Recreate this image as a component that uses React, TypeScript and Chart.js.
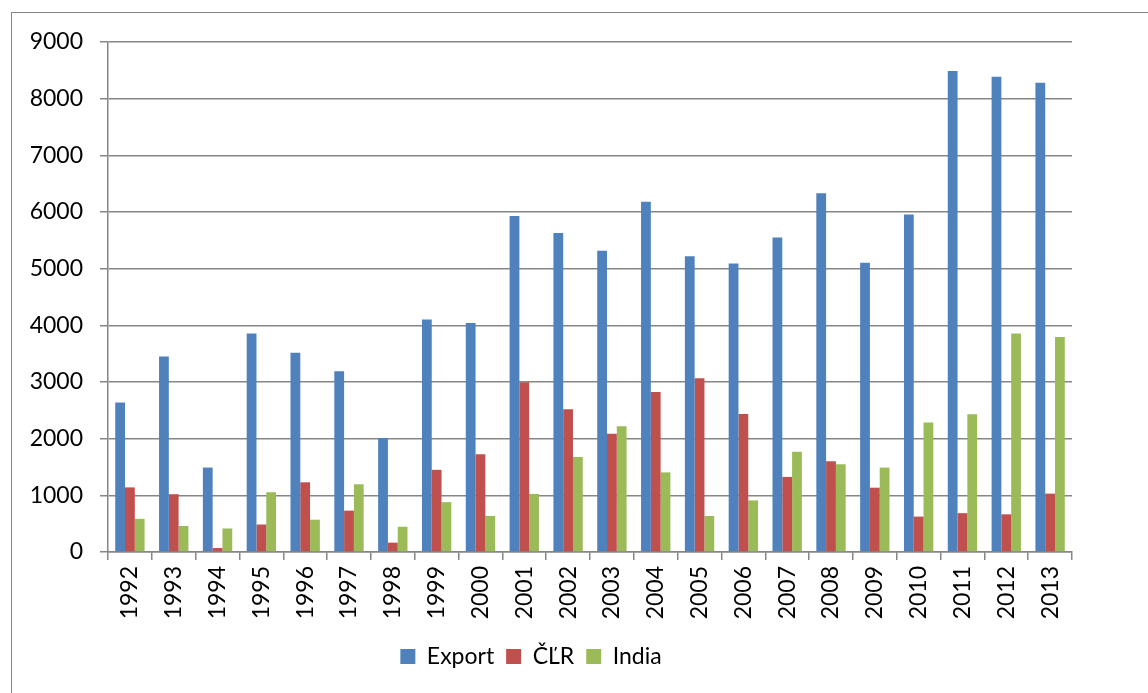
import React, { useEffect, useRef } from "react";
import { Chart, registerables } from "chart.js";

Chart.register(...registerables);

const years = ["1992","1993","1994","1995","1996","1997","1998","1999","2000","2001","2002","2003","2004","2005","2006","2007","2008","2009","2010","2011","2012","2013"];
const exportValues = [2640,3450,1490,3855,3515,3190,2010,4105,4040,5930,5630,5315,6180,5220,5090,5550,6330,5105,5955,8490,8385,8280];
const clrValues = [1140,1020,70,485,1230,730,165,1450,1725,2995,2520,2085,2825,3065,2435,1325,1600,1135,625,685,665,1030];
const indiaValues = [585,460,415,1055,570,1195,445,880,635,1025,1675,2220,1405,635,910,1770,1550,1490,2285,2430,3855,3795];
const yTicks = [0,1000,2000,3000,4000,5000,6000,7000,8000,9000];

const FONT = "Lato, 'Liberation Sans', sans-serif";
const GRID = "#868686";

export default function App() {
  const ref = useRef<HTMLCanvasElement | null>(null);
  useEffect(() => {
    if (!ref.current) return;
    const chart = new Chart(ref.current, {
      type: "bar",
      data: {
        labels: years,
        datasets: [
          { label: "Export", data: exportValues, backgroundColor: "#4F81BD" },
          { label: "ČĽR", data: clrValues, backgroundColor: "#C0504D" },
          { label: "India", data: indiaValues, backgroundColor: "#9BBB59" },
        ],
      },
      options: {
        animation: false,
        responsive: false,
        maintainAspectRatio: false,
        layout: { padding: { left: 0, right: 76, top: 42, bottom: 15 } },
        datasets: { bar: { categoryPercentage: 0.67, barPercentage: 1.0 } },
        plugins: {
          tooltip: { enabled: false },
          legend: {
            position: "bottom",
            labels: {
              boxWidth: 15,
              boxHeight: 15,
              padding: 12,
              color: "#000",
              font: { family: FONT, size: 23 },
            },
          },
        },
        scales: {
          x: {
            offset: true,
            grid: { offset: true, drawOnChartArea: false, drawTicks: true, tickLength: 8, color: GRID, lineWidth: 1.5 },
            border: { color: GRID, width: 1.5 },
            ticks: { minRotation: 90, maxRotation: 90, padding: 6, color: "#000", font: { family: FONT, size: 23 } },
            afterFit: (s: any) => { s.height = 81; },
          },
          y: {
            min: 0,
            max: 9000,
            afterBuildTicks: (s: any) => { s.ticks = yTicks.map((v) => ({ value: v })); },
            grid: { color: GRID, lineWidth: 1.5, tickLength: 8 },
            border: { color: GRID, width: 1.5 },
            ticks: { padding: 17, color: "#000", font: { family: FONT, size: 23 }, callback: (v: any) => String(v) },
            afterFit: (s: any) => { s.width = 118; },
          },
        },
      },
    });
    return () => chart.destroy();
  }, []);
  return (
    <div style={{ position: "fixed", left: 0, top: 0, width: 1148, height: 693, overflow: "hidden", background: "#fff" }}>
      <div style={{ position: "absolute", left: 11, top: 12, width: 1300, height: 800, border: "1px solid #868686" }} />
      <canvas ref={ref} width={1158} height={693} style={{ position: "absolute", left: -10, top: 0, width: 1158, height: 693 }} />
    </div>
  );
}
